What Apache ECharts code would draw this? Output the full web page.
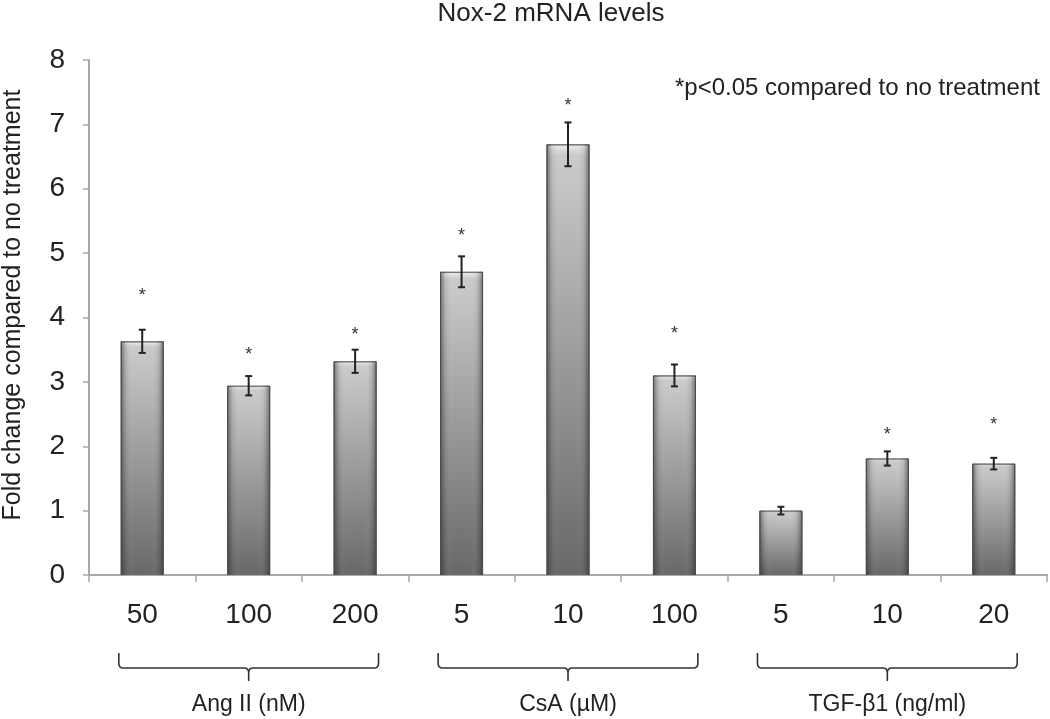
<!DOCTYPE html>
<html><head><meta charset="utf-8">
<script src="https://cdn.jsdelivr.net/npm/echarts@6/dist/echarts.min.js"></script>
<style>html,body{margin:0;padding:0;background:#fff}#c{width:1050px;height:719px}</style>
</head><body><div id="c"></div>
<script>
const categories = ['50', '100', '200', '5', '10', '100', '5', '10', '20'];
const values = [3.63, 2.94, 3.32, 4.71, 6.69, 3.10, 1.00, 1.81, 1.73];
const errors = [0.18, 0.15, 0.18, 0.24, 0.34, 0.17, 0.06, 0.11, 0.09];
const starPos = [4.40, 3.48, 3.79, 5.33, 7.35, 3.80, null, 2.24, 2.39];
const groupNames = ['Ang II (nM)', 'CsA (µM)', 'TGF-β1 (ng/ml)'];
const groupStart = [0, 3, 6];
const groupEnd = [2, 5, 8];
const titleText = 'Nox-2 mRNA levels';
const yName = 'Fold change compared to no treatment';
const noteText = '*p<0.05 compared to no treatment';

const FONT = "'Liberation Sans', Arial, sans-serif";
const chart = echarts.init(document.getElementById('c'), null, {renderer: 'canvas'});
const axisColor = '#a8a8a8';

const option = {
  animation: false,
  backgroundColor: '#fff',
  grid: {left: 89, right: 3, top: 60, bottom: 144, containLabel: false},
  xAxis: {
    type: 'category', data: categories, boundaryGap: true,
    axisLine: {show: true, lineStyle: {color: axisColor, width: 2}},
    axisTick: {show: true, length: 7, lineStyle: {color: axisColor, width: 1.5}},
    axisLabel: {fontSize: 28, color: '#222', margin: 26, fontFamily: FONT}
  },
  yAxis: {
    type: 'value', min: 0, max: 8, interval: 1,
    axisLine: {show: true, lineStyle: {color: axisColor, width: 2}},
    axisTick: {show: true, length: 6, lineStyle: {color: axisColor, width: 1.5}},
    splitLine: {show: false},
    axisLabel: {fontSize: 28, color: '#222', margin: 24, fontFamily: FONT}
  },
  series: [
    {
      type: 'bar', data: values, barWidth: 43, barGap: '-100%',
      itemStyle: {
        color: new echarts.graphic.LinearGradient(0, 0, 0, 1, [
          {offset: 0, color: '#ececec'},
          {offset: 0.025, color: '#cbcbcb'},
          {offset: 1, color: '#686868'}
        ]),
        borderColor: '#6e6e6e', borderWidth: 1
      },
      silent: true
    },
    {
      type: 'bar', data: values, barWidth: 43, barGap: '-100%',
      itemStyle: {
        color: new echarts.graphic.LinearGradient(0, 0, 1, 0, [
          {offset: 0, color: 'rgba(40,40,40,0.55)'},
          {offset: 0.12, color: 'rgba(40,40,40,0.12)'},
          {offset: 0.3, color: 'rgba(255,255,255,0.0)'},
          {offset: 0.7, color: 'rgba(255,255,255,0.0)'},
          {offset: 0.88, color: 'rgba(40,40,40,0.12)'},
          {offset: 1, color: 'rgba(40,40,40,0.55)'}
        ])
      },
      silent: true
    },
    {
      type: 'custom',
      data: values.map((v, i) => [i, v, errors[i]]),
      renderItem: function (params, api) {
        const x = api.value(0), v = api.value(1), e = api.value(2);
        const top = api.coord([x, v + e]);
        const bot = api.coord([x, v - e]);
        const cap = 3.5;
        const st = {stroke: '#222', lineWidth: 2};
        return {type: 'group', children: [
          {type: 'line', shape: {x1: top[0], y1: top[1], x2: bot[0], y2: bot[1]}, style: st},
          {type: 'line', shape: {x1: top[0] - cap, y1: top[1], x2: top[0] + cap, y2: top[1]}, style: st},
          {type: 'line', shape: {x1: bot[0] - cap, y1: bot[1], x2: bot[0] + cap, y2: bot[1]}, style: st}
        ]};
      },
      z: 5, silent: true
    },
    {
      type: 'custom',
      data: starPos.map((s, i) => s == null ? [i, '-'] : [i, s]),
      renderItem: function (params, api) {
        const s = api.value(1);
        if (isNaN(s)) return null;
        const p = api.coord([api.value(0), s]);
        return {type: 'text', x: p[0], y: p[1] + 4,
          style: {text: '*', fontSize: 18, fill: '#333', fontFamily: FONT, align: 'center', verticalAlign: 'middle'}};
      },
      z: 5, silent: true
    }
  ]
};
chart.setOption(option);

function corner(cx, cy, r, a0, a1, n) {
  const pts = [];
  for (let k = 0; k <= n; k++) {
    const a = a0 + (a1 - a0) * k / n;
    pts.push([cx + r * Math.cos(a), cy + r * Math.sin(a)]);
  }
  return pts;
}

const graphics = [
  {type: 'text', x: 551, y: 14, style: {text: titleText, fontSize: 26, fill: '#222', fontFamily: FONT, align: 'center', verticalAlign: 'middle'}},
  {type: 'text', x: 675, y: 88, style: {text: noteText, fontSize: 24, fill: '#222', fontFamily: FONT, align: 'left', verticalAlign: 'middle'}},
  {type: 'text', x: 13, y: 305, rotation: Math.PI / 2, style: {text: yName, fontSize: 25, fill: '#222', fontFamily: FONT, align: 'center', verticalAlign: 'middle'}}
];
const band = chart.convertToPixel({xAxisIndex: 0}, 1) - chart.convertToPixel({xAxisIndex: 0}, 0);
groupNames.forEach((name, g) => {
  const x1 = chart.convertToPixel({xAxisIndex: 0}, groupStart[g]) - band * 0.22;
  const x2 = chart.convertToPixel({xAxisIndex: 0}, groupEnd[g]) + band * 0.22;
  const xm = (x1 + x2) / 2;
  const yT = 653, yH = 668, yB = 681, r = 4;
  // left half: top of left end -> corner -> horizontal -> corner down into centre stem
  const left = [[x1, yT]]
    .concat(corner(x1 + r, yH - r, r, Math.PI, Math.PI / 2, 4))
    .concat(corner(xm - r, yH + r, r, -Math.PI / 2, 0, 4))
    .concat([[xm, yB]]);
  const right = [[x2, yT]]
    .concat(corner(x2 - r, yH - r, r, 0, Math.PI / 2, 4))
    .concat(corner(xm + r, yH + r, r, -Math.PI / 2, -Math.PI, 4));
  const st = {stroke: '#333', lineWidth: 1.6, fill: null};
  graphics.push({type: 'polyline', shape: {points: left}, style: st});
  graphics.push({type: 'polyline', shape: {points: right}, style: st});
  graphics.push({type: 'text', x: xm, y: 705, style: {text: name, fontSize: 23, fill: '#222', fontFamily: FONT, align: 'center', verticalAlign: 'middle'}});
});
chart.setOption({graphic: graphics});
</script>
</body></html>
